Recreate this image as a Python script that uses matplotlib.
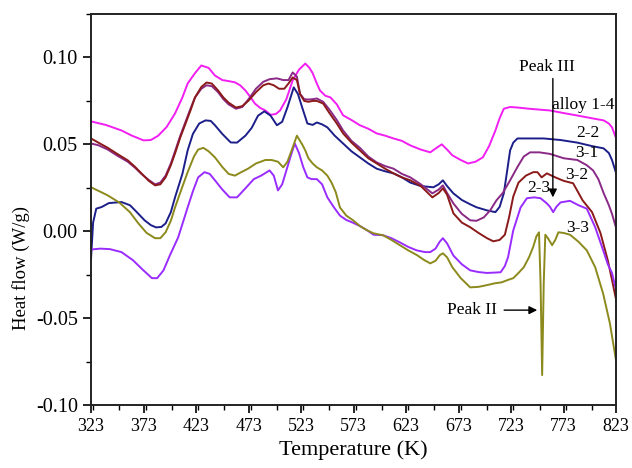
import matplotlib
matplotlib.use("Agg")
import matplotlib.pyplot as plt
from matplotlib.ticker import MultipleLocator, FixedLocator

plt.rcParams['font.family'] = ['Liberation Serif', 'DejaVu Serif']
plt.rcParams['axes.unicode_minus'] = False

# alloy 1-4 (magenta)
t14 = [323, 337, 352, 362, 373, 380, 387, 395, 403, 410, 415, 422, 428, 435, 441, 448, 454, 460, 465, 470,
       475, 479, 484, 489, 494, 499, 503, 509, 515, 521, 527, 531, 534, 538, 541, 546, 551, 557, 563, 571,
       579, 587, 595, 603, 611, 619, 627, 637, 646, 652, 657, 662, 667, 675, 682, 689, 696, 702, 708, 712,
       716, 722, 729, 740, 750, 760, 773, 786, 800, 811, 816, 819, 823]
v14 = [0.0632, 0.0612, 0.058, 0.055, 0.0523, 0.0525, 0.055, 0.060, 0.0678, 0.077, 0.085, 0.091, 0.0954, 0.094,
       0.0896, 0.087, 0.0864, 0.0857, 0.084, 0.081, 0.077, 0.0735, 0.071, 0.0695, 0.067, 0.0675, 0.0695, 0.076,
       0.0868, 0.093, 0.0965, 0.094, 0.091, 0.085, 0.081, 0.078, 0.077, 0.073, 0.0667, 0.064, 0.061, 0.059,
       0.0563, 0.055, 0.0534, 0.052, 0.0494, 0.047, 0.0454, 0.048, 0.050, 0.047, 0.0437, 0.041, 0.039, 0.040,
       0.0425, 0.049, 0.058, 0.065, 0.0705, 0.0715, 0.0712, 0.0705, 0.070, 0.0695, 0.068, 0.0666, 0.065,
       0.0638, 0.062, 0.0598, 0.0534]

# 2-2 (navy)
t22 = [323, 325, 328, 333, 340, 352, 360, 365, 374, 380, 385, 390, 394, 399, 403, 410, 415, 420, 426, 432,
       437, 441, 448, 456, 462, 470, 476, 482, 488, 494, 500, 505, 510, 516, 520, 524, 529, 534, 538, 543,
       548, 555, 563, 571, 579, 587, 595, 603, 611, 619, 627, 637, 649, 654, 658, 662, 668, 676, 684, 690,
       700, 708, 712, 716, 719, 722, 725, 729, 740, 754, 770, 786, 800, 811, 816, 819, 823]
v22 = [-0.016, 0.005, 0.013, 0.0139, 0.0162, 0.0168, 0.015, 0.012, 0.0063, 0.0035, 0.0022, 0.0025, 0.0045,
       0.011, 0.0195, 0.033, 0.0465, 0.056, 0.062, 0.0638, 0.0635, 0.061, 0.056, 0.0511, 0.051, 0.055, 0.0595,
       0.0665, 0.069, 0.0665, 0.061, 0.063, 0.0713, 0.0828, 0.079, 0.0713, 0.062, 0.0612, 0.0626, 0.0615,
       0.0598, 0.055, 0.0505, 0.046, 0.0425, 0.039, 0.036, 0.0345, 0.0333, 0.031, 0.028, 0.026, 0.0253,
       0.027, 0.0293, 0.026, 0.0218, 0.018, 0.0155, 0.0138, 0.012, 0.011, 0.014, 0.0218, 0.034, 0.0465,
       0.051, 0.0534, 0.0534, 0.0534, 0.0525, 0.051, 0.049, 0.0477, 0.045, 0.041, 0.0333]

# 3-1 (purple)
t31 = [323, 330, 339, 348, 358, 365, 371, 378, 384, 389, 394, 399, 403, 408, 413, 418, 422, 428, 433, 438,
       444, 449, 454, 461, 467, 473, 480, 487, 493, 500, 506, 511, 515, 519, 522, 526, 530, 534, 538, 544,
       550, 557, 563, 571, 579, 587, 595, 603, 611, 619, 627, 637, 648, 654, 658, 662, 668, 676, 684, 690,
       697, 703, 709, 715, 722, 729, 735, 741, 750, 760, 773, 786, 795, 801, 806, 811, 816, 819, 823]
v31 = [0.0505, 0.0495, 0.047, 0.0435, 0.040, 0.0365, 0.033, 0.0295, 0.027, 0.028, 0.032, 0.039, 0.046, 0.055,
       0.063, 0.071, 0.077, 0.082, 0.084, 0.0835, 0.080, 0.076, 0.073, 0.0705, 0.0715, 0.076, 0.082, 0.086,
       0.0875, 0.088, 0.087, 0.087, 0.0914, 0.089, 0.079, 0.076, 0.0758, 0.076, 0.0764, 0.0745, 0.070, 0.064,
       0.058, 0.052, 0.048, 0.043, 0.0396, 0.0375, 0.036, 0.033, 0.031, 0.027, 0.0218, 0.024, 0.0264, 0.022,
       0.016, 0.010, 0.0063, 0.006, 0.008, 0.012, 0.0178, 0.022, 0.0293, 0.037, 0.043, 0.0454, 0.0454,
       0.0445, 0.042, 0.041, 0.038, 0.035, 0.030, 0.022, 0.015, 0.010, 0.0017]

# 3-2 (dark red)
t32 = [323, 330, 339, 348, 358, 365, 371, 378, 384, 389, 394, 399, 403, 408, 413, 418, 422, 428, 433, 438,
       444, 449, 454, 461, 467, 473, 480, 487, 492, 497, 502, 507, 511, 515, 519, 522, 526, 530, 534, 538,
       544, 550, 557, 563, 571, 579, 587, 595, 603, 611, 619, 627, 637, 648, 654, 658, 662, 668, 676, 684,
       692, 700, 706, 712, 717, 721, 725, 730, 737, 744, 748, 752, 757, 765, 773, 782, 791, 800, 808, 815,
       819, 823]
v32 = [0.0534, 0.051, 0.048, 0.0445, 0.0408, 0.037, 0.0333, 0.029, 0.0264, 0.027, 0.031, 0.038, 0.0448, 0.054,
       0.062, 0.070, 0.077, 0.083, 0.0856, 0.085, 0.081, 0.077, 0.074, 0.0712, 0.072, 0.0752, 0.080, 0.084,
       0.085, 0.084, 0.082, 0.082, 0.085, 0.0885, 0.087, 0.079, 0.075, 0.0745, 0.075, 0.075, 0.0735, 0.068,
       0.062, 0.0563, 0.051, 0.0465, 0.042, 0.039, 0.036, 0.0333, 0.031, 0.0293, 0.026, 0.0195, 0.022, 0.0247,
       0.021, 0.0103, 0.005, 0.0023, -0.001, -0.004, -0.0058, -0.005, -0.002, 0.008, 0.020, 0.028, 0.032,
       0.034, 0.034, 0.031, 0.0333, 0.031, 0.029, 0.0276, 0.0178, 0.011, -0.001, -0.0167, -0.028, -0.0397]

# 2-3 (violet)
t23 = [323, 332, 341, 352, 363, 372, 381, 386, 392, 398, 406, 415, 420, 425, 431, 436, 441, 448, 455, 462,
       470, 478, 485, 493, 497, 501, 505, 509, 513, 517, 521, 525, 529, 533, 538, 543, 548, 554, 560, 566,
       572, 579, 586, 592, 601, 609, 617, 625, 633, 641, 646, 651, 655, 658, 662, 668, 676, 684, 692, 700,
       707, 713, 717, 720, 725, 732, 738, 745, 751, 757, 760, 763, 766, 770, 779, 787, 795, 803, 810.6, 815,
       819, 823]
v23 = [-0.0105, -0.0100, -0.0103, -0.012, -0.0167, -0.022, -0.027, -0.027, -0.0225, -0.014, -0.0035, 0.0137,
       0.023, 0.031, 0.034, 0.033, 0.0293, 0.024, 0.0195, 0.0195, 0.0247, 0.030, 0.032, 0.035, 0.032, 0.0235,
       0.027, 0.035, 0.043, 0.0505, 0.045, 0.037, 0.031, 0.030, 0.030, 0.027, 0.0195, 0.014, 0.009, 0.0065,
       0.005, 0.003, 0.0005, -0.002, -0.0023, -0.004, -0.0064, -0.009, -0.011, -0.012, -0.012, -0.010, -0.006,
       -0.004, -0.007, -0.014, -0.019, -0.0225, -0.0235, -0.024, -0.0238, -0.0236, -0.020, -0.015, 0.0005,
       0.0137, 0.019, 0.0195, 0.019, 0.016, 0.014, 0.011, 0.014, 0.0166, 0.0175, 0.015, 0.013, 0.0023, -0.011,
       -0.019, -0.024, -0.034]

# 3-3 (olive)
t33 = [323, 331, 339, 350, 360, 368, 376, 384, 389, 394, 399, 403, 409, 415, 421, 425, 430, 435, 441, 448,
       454, 460, 466, 472.5, 480, 489, 495, 501, 506, 510, 514, 519, 524, 527, 530, 534, 538, 543, 548, 552,
       556, 560, 566, 572.5, 579, 586, 592, 601, 609, 617, 625, 633.5, 640, 646, 651, 655, 658, 662, 667,
       675, 684, 692, 700, 707, 714, 720, 725, 730, 735, 740, 744, 747, 749.5, 751, 752.5, 754, 755.5, 758,
       762, 765, 768, 773, 779, 787, 795, 803, 810.6, 817, 823]
v33 = [0.0253, 0.023, 0.0206, 0.0165, 0.011, 0.0046, -0.001, -0.004, -0.004, -0.0006, 0.006, 0.0137, 0.024,
       0.034, 0.043, 0.047, 0.048, 0.046, 0.0425, 0.037, 0.033, 0.032, 0.034, 0.036, 0.039, 0.041, 0.041,
       0.040, 0.0368, 0.040, 0.0465, 0.055, 0.050, 0.0465, 0.042, 0.039, 0.0368, 0.035, 0.032, 0.028, 0.0225,
       0.0137, 0.009, 0.0063, 0.003, 0.0005, -0.0012, -0.0023, -0.005, -0.008, -0.011, -0.0138, -0.0165,
       -0.0185, -0.017, -0.0138, -0.0127, -0.015, -0.0207, -0.027, -0.0323, -0.032, -0.031, -0.030, -0.0294,
       -0.028, -0.027, -0.024, -0.0207, -0.015, -0.009, -0.003, -0.0006, -0.03, -0.0828, -0.03, -0.002,
       -0.004, -0.008, -0.005, -0.0006, -0.001, -0.002, -0.006, -0.011, -0.0207, -0.036, -0.053, -0.075]

series = [
    (t14, v14, '#f21ef2'),
    (t22, v22, '#1c1f8a'),
    (t31, v31, '#8a2a86'),
    (t32, v32, '#8b1a1a'),
    (t23, v23, '#9a2cff'),
    (t33, v33, '#8c8a1c'),
]

labels = ['alloy 1-4', '2-2', '3-1', '3-2', '2-3', '3-3']
label_pos = [(791.6, 0.0724), (796.3, 0.0563), (795.4, 0.0448), (785.0, 0.0322), (749.7, 0.0247), (786.0, 0.0017)]

xticks = [323, 373, 423, 473, 523, 573, 623, 673, 723, 773, 823]
yticks = [-0.10, -0.05, 0.00, 0.05, 0.10]

fig = plt.figure(figsize=(6.32, 4.68), dpi=100)
ax = fig.add_axes([0.144, 0.1346, 0.831, 0.8354])

for t, v, c in series:
    ax.plot(t, v, color=c, lw=1.4)

ax.set_xlim(323, 823)
ax.set_ylim(-0.10, 0.125)
ax.xaxis.set_major_locator(FixedLocator(xticks))
ax.xaxis.set_minor_locator(MultipleLocator(25))
ax.yaxis.set_major_locator(FixedLocator(yticks))
ax.yaxis.set_minor_locator(MultipleLocator(0.025))
ax.set_xticklabels([str(x) for x in xticks])
ax.set_yticklabels(['%.2f' % y for y in yticks])
ax.tick_params(which='major', direction='out', length=6, width=1.2, top=False, right=False)
ax.tick_params(axis='x', which='major', labelsize=13)
ax.tick_params(axis='y', which='major', labelsize=14.5)
ax.tick_params(which='minor', direction='out', length=3.5, width=1.0, top=False, right=False)
for s in ax.spines.values():
    s.set_linewidth(1.4)
    s.set_color('#222222')

ax.set_xlabel('Temperature (K)', fontsize=16, labelpad=4)
ax.set_ylabel('Heat flow (W/g)', fontsize=13.5)
ax.yaxis.set_label_coords(-0.117, 0.35)

for lab, (x, y) in zip(labels, label_pos):
    ax.text(x, y, lab, fontsize=12.5, ha='center', va='center')

ax.text(757.3, 0.0943, 'Peak III', fontsize=12.5, ha='center', va='center')
ax.annotate('', xy=(762.7, 0.0195), xytext=(762.7, 0.0879),
            arrowprops=dict(arrowstyle='-|>', lw=1.0, color='k', mutation_scale=12, shrinkA=0, shrinkB=0))
ax.text(685.9, -0.0454, 'Peak II', fontsize=12.5, ha='center', va='center')
ax.annotate('', xy=(747.8, -0.0454), xytext=(716.3, -0.0454),
            arrowprops=dict(arrowstyle='-|>', lw=1.0, color='k', mutation_scale=12, shrinkA=0, shrinkB=0))

fig.savefig('out.png', dpi=100)
